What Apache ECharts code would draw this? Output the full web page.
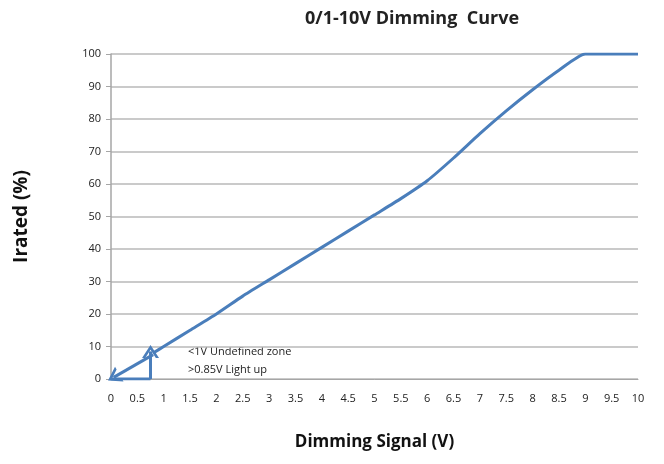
<!DOCTYPE html>
<html><head><meta charset="utf-8">
<script src="https://cdn.jsdelivr.net/npm/echarts@6/dist/echarts.min.js"></script>
<style>html,body{margin:0;padding:0;background:#fff}#c{width:664px;height:464px}</style>
</head><body><div id="c"></div>
<script>
var xValues = [0.8, 1, 1.5, 2, 2.5, 3, 3.5, 4, 4.5, 5, 5.5, 6, 6.5, 7, 7.5, 8, 8.5, 9, 9.5, 10];
var yValues = [8, 10, 15, 20, 25.5, 30.5, 35.5, 40.5, 45.5, 50.5, 55.5, 61, 68, 75.5, 82.5, 89, 95, 100, 100, 100];
var xTicks = ['0','0.5','1','1.5','2','2.5','3','3.5','4','4.5','5','5.5','6','6.5','7','7.5','8','8.5','9','9.5','10'];
var arrowDiag = [[0.8, 7.5], [0.05, 0.5]];
var arrowUp = [[0.75, 0], [0.75, 8.5]];
var baseLine = [[0, 0], [0.75, 0]];
var note1 = '<1V Undefined zone';
var note2 = '>0.85V Light up';

var blue = '#4a7ebb';
var chevron = 'path://M0,12L8,0L16,12L13,12L8,4.5L3,12Z';
var chart = echarts.init(document.getElementById('c'));
var font = '"Open Sans", "Noto Sans", sans-serif';
chart.setOption({
  animation: false,
  title: { text: '0/1-10V Dimming  Curve', left: 407, top: 5, textAlign: 'center',
    textStyle: { fontFamily: font, fontSize: 18, fontWeight: 'bold', color: '#222' } },
  grid: { left: 111, right: 26, top: 54, bottom: 85 },
  xAxis: {
    type: 'value', min: 0, max: 10, interval: 0.5,
    name: 'Dimming Signal (V)', nameLocation: 'middle', nameGap: 55,
    nameTextStyle: { fontFamily: font, fontSize: 17, fontWeight: 'bold', color: '#111' },
    axisLine: { show: true, lineStyle: { color: '#a6a6a6', width: 1 } },
    axisTick: { show: false },
    splitLine: { show: false },
    axisLabel: { fontFamily: font, fontSize: 11, color: '#222', margin: 14,
      formatter: function (v) { return xTicks[Math.round(v * 2)]; } }
  },
  yAxis: {
    type: 'value', min: 0, max: 100, interval: 10,
    name: 'Irated (%)', nameLocation: 'middle', nameGap: 80, nameRotate: 90,
    nameTextStyle: { fontFamily: font, fontSize: 19, fontWeight: 'bold', color: '#111' },
    axisLine: { show: true, lineStyle: { color: '#a6a6a6', width: 1.5 } },
    axisTick: { show: true, length: 5, lineStyle: { color: '#a6a6a6' } },
    splitLine: { show: true, lineStyle: { color: '#b8b8b8', width: 1.5 } },
    axisLabel: { fontFamily: font, fontSize: 11, color: '#222', margin: 10 }
  },
  series: [
    { type: 'line', data: xValues.map(function (x, i) { return [x, yValues[i]]; }),
      symbol: 'none', smooth: 0.2, lineStyle: { color: blue, width: 3 }, z: 5 },
    { type: 'line', data: baseLine, symbol: 'none', lineStyle: { color: blue, width: 3 }, z: 6 },
    { type: 'line', data: [], symbol: 'none',
      markLine: { silent: true, symbol: ['none', chevron], symbolSize: [17, 13], label: { show: false },
        lineStyle: { color: blue, width: 3, type: 'solid' },
        data: [
          [{ coord: arrowDiag[0] }, { coord: arrowDiag[1] }],
          [{ coord: arrowUp[0] }, { coord: arrowUp[1] }]
        ] } }
  ],
  graphic: [
    { type: 'text', left: 188, top: 346, style: { text: note1, fontFamily: font, fontSize: 11, fill: '#222' } },
    { type: 'text', left: 188, top: 364, style: { text: note2, fontFamily: font, fontSize: 11, fill: '#222' } }
  ]
});
</script></body></html>
